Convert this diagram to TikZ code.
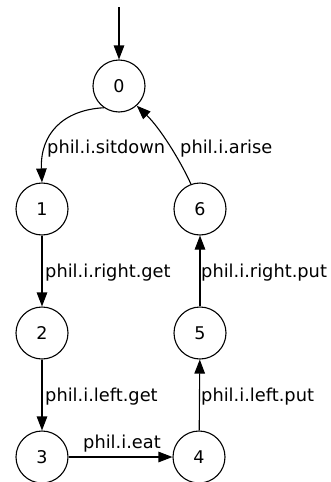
\documentclass[tikz,border=0pt]{standalone}
\usepackage{fontspec}
\setmainfont{DejaVu Sans}
\usetikzlibrary{arrows.meta}
\begin{document}
\begin{tikzpicture}[x=1pt,y=-1pt,
  state/.style={draw, circle, minimum size=52pt, inner sep=0pt, line width=1.1pt, font=\fontsize{17.5}{20}\selectfont},
  edge/.style={draw, line width=1.1pt, -{Triangle[length=14pt,width=10.5pt]}},
  lbl/.style={anchor=base west, inner sep=0pt, font=\fontsize{17.8}{20}\selectfont}]
\useasboundingbox (0,0) rectangle (330,482);
\node[state] (n0) at (119,86) {0};
\node[state] (n1) at (42,209) {1};
\node[state] (n2) at (42,333) {2};
\node[state] (n3) at (42,457) {3};
\node[state] (n4) at (199,457) {4};
\node[state] (n5) at (200,333) {5};
\node[state] (n6) at (200,209) {6};
\coordinate (start) at (119,7);
\draw[edge] (start) -- (n0);
\draw[edge] (n0.235) .. controls (62,110) and (40,135) .. (n1.north);
\draw[edge] (n6.110) .. controls (180,160) and (160,128) .. (n0.312);
\draw[edge] (n1) -- (n2);
\draw[edge] (n2) -- (n3);
\draw[edge] (n3) -- (n4);
\draw[edge] (n4) -- (n5);
\draw[edge] (n5) -- (n6);
\node[lbl] (l01) at (47,153) {phil.i.sitdown};
\node[lbl] (l60) at (180,153) {phil.i.arise};
\node[lbl] (l12) at (45,277) {phil.i.right.get};
\node[lbl] (l56) at (201,277) {phil.i.right.put};
\node[lbl] (l23) at (45,401) {phil.i.left.get};
\node[lbl] (l45) at (201,401) {phil.i.left.put};
\node[lbl] (l34) at (83,448) {phil.i.eat};
\end{tikzpicture}
\end{document}
